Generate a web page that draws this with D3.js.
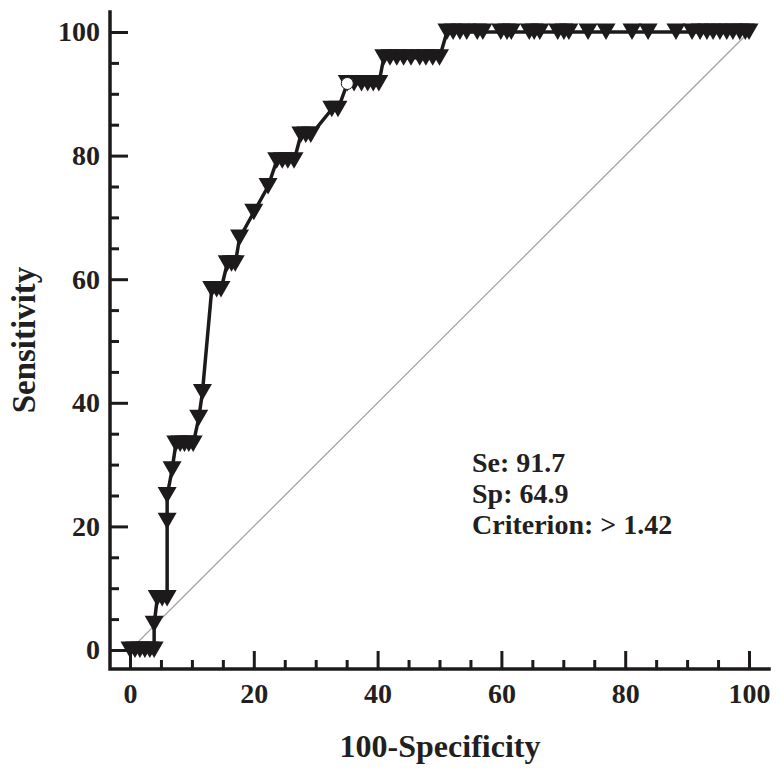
<!DOCTYPE html>
<html>
<head>
<meta charset="utf-8">
<script src="https://cdn.jsdelivr.net/npm/d3@7"></script>
<style>
  body { margin: 0; background: #fff; }
  text { font-family: "Liberation Serif", "Times New Roman", serif; font-weight: bold; fill: #231f20; }
</style>
</head>
<body>
<div id="chart"></div>
<script>
// ROC points: 100-Specificity (x) and Sensitivity (y)
const fpr = [
  0, 0.8, 1.6, 2.4, 3.2, 3.9,
  3.9,
  4.4, 5.2, 6.0,
  6.0, 6.0, 6.8,
  7.4, 8.1, 8.8, 9.5, 10.2,
  11.1, 11.7,
  13.2, 14.0, 14.7,
  15.7, 16.4, 17.0,
  17.7, 20.0, 22.3,
  23.7, 24.6, 25.5, 26.5,
  27.6, 28.4, 29.2,
  32.6, 33.6,
  35.1, 36.2, 37.4, 38.4, 39.3, 40.2,
  41.0, 42.0, 43.1, 44.2, 45.4, 46.8, 47.8, 48.9, 50.0,
  51.2, 52.2, 53.3, 54.4, 56.1, 57.0, 59.9, 60.9, 61.6, 64.5, 65.3, 66.2,
  69.1, 70.1, 70.9, 74.0, 76.9, 81.1, 83.7, 88.2, 90.8, 92.1, 93.2, 94.2,
  95.3, 96.4, 97.4, 98.5, 99.4, 100
];
const sens = [
  0, 0, 0, 0, 0, 0,
  4.17,
  8.33, 8.33, 8.33,
  20.83, 25, 29.17,
  33.33, 33.33, 33.33, 33.33, 33.33,
  37.5, 41.67,
  58.33, 58.33, 58.33,
  62.5, 62.5, 62.5,
  66.67, 70.83, 75,
  79.17, 79.17, 79.17, 79.17,
  83.33, 83.33, 83.33,
  87.5, 87.5,
  91.67, 91.67, 91.67, 91.67, 91.67, 91.67,
  95.83, 95.83, 95.83, 95.83, 95.83, 95.83, 95.83, 95.83, 95.83,
  100, 100, 100, 100, 100, 100, 100, 100, 100, 100, 100, 100,
  100, 100, 100, 100, 100, 100, 100, 100, 100, 100, 100, 100,
  100, 100, 100, 100, 100, 100
];
const criterion = { x: 35.1, y: 91.67 };
const majorTicks = [0, 20, 40, 60, 80, 100];
const minorTicks = [5, 10, 15, 25, 30, 35, 45, 50, 55, 65, 70, 75, 85, 90, 95];
const annotation = ["Se: 91.7", "Sp: 64.9", "Criterion: > 1.42"];

const W = 783, H = 778;
const ink = "#1c1a1b";

const svg = d3.select("#chart").append("svg")
  .attr("width", W).attr("height", H);

const x = d3.scaleLinear().domain([0, 100]).range([130, 749]);
const y = d3.scaleLinear().domain([0, 100]).range([650, 32]);
const axisXpos = 110, axisYpos = 669;

// diagonal reference line
svg.append("line")
  .attr("x1", x(0)).attr("y1", y(0))
  .attr("x2", x(100)).attr("y2", y(100))
  .attr("stroke", "#a3a3a3").attr("stroke-width", 1.3);

// y axis ticks (inward)
const gy = svg.append("g").attr("transform", `translate(${axisXpos},0)`);
gy.call(d3.axisLeft(y).tickValues(minorTicks).tickSizeInner(-9).tickSizeOuter(0).tickFormat(""));
gy.append("g").call(d3.axisLeft(y).tickValues(majorTicks).tickSizeInner(-18).tickSizeOuter(0).tickPadding(10));
gy.selectAll(".domain").remove();
gy.selectAll("line").attr("stroke", ink).attr("stroke-width", 3);
gy.selectAll("text").attr("font-size", 28).attr("font-family", null).attr("fill", null);

// x axis ticks (inward)
const gx = svg.append("g").attr("transform", `translate(0,${axisYpos})`);
gx.call(d3.axisBottom(x).tickValues(minorTicks).tickSizeInner(-9).tickSizeOuter(0).tickFormat(""));
gx.append("g").call(d3.axisBottom(x).tickValues(majorTicks).tickSizeInner(-18).tickSizeOuter(0).tickPadding(14));
gx.selectAll(".domain").remove();
gx.selectAll("line").attr("stroke", ink).attr("stroke-width", 3);
gx.selectAll("text").attr("font-size", 28).attr("font-family", null).attr("fill", null);

// axis lines
svg.append("path")
  .attr("d", `M${axisXpos},12 L${axisXpos},${axisYpos} L769,${axisYpos}`)
  .attr("fill", "none").attr("stroke", ink).attr("stroke-width", 3.5)
  .attr("stroke-linecap", "square");

// ROC curve
const pts = fpr.map((v, i) => [v, sens[i]]);
svg.append("path")
  .datum(pts)
  .attr("d", d3.line().x(d => x(d[0])).y(d => y(d[1])))
  .attr("fill", "none").attr("stroke", ink).attr("stroke-width", 3.5)
  .attr("stroke-linejoin", "round");

// inverted triangle markers
svg.append("g").selectAll("path")
  .data(pts)
  .join("path")
  .attr("transform", d => `translate(${x(d[0])},${y(d[1])})`)
  .attr("d", "M-9.5,-8.5 L9.5,-8.5 L0,8 Z")
  .attr("fill", ink);

// criterion point
svg.append("circle")
  .attr("cx", x(criterion.x)).attr("cy", y(criterion.y))
  .attr("r", 6)
  .attr("fill", "#fff").attr("stroke", ink).attr("stroke-width", 1);

// annotation
svg.append("g").selectAll("text")
  .data(annotation)
  .join("text")
  .attr("x", 472)
  .attr("y", (d, i) => 472 + i * 31)
  .attr("font-size", 28)
  .text(d => d);

// axis titles
svg.append("text")
  .attr("transform", "translate(35,340) rotate(-90)")
  .attr("text-anchor", "middle")
  .attr("font-size", 33)
  .text("Sensitivity");

svg.append("text")
  .attr("x", 440).attr("y", 757)
  .attr("text-anchor", "middle")
  .attr("font-size", 32)
  .text("100-Specificity");
</script>
</body>
</html>
